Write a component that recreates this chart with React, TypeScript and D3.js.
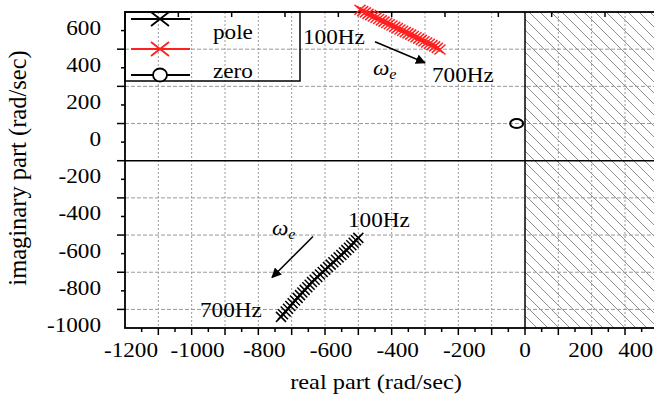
import React, { useEffect, useRef } from 'react';
import * as d3 from 'd3';

// pole trajectories, 100Hz -> 700Hz
const blackPoles: [number, number][] = [
  [-500, -515], [-507, -528], [-514, -541], [-521, -555], [-528, -568], [-536, -581],
  [-543, -594], [-551, -607], [-559, -620], [-567, -633], [-575, -646], [-583, -659],
  [-591, -672], [-599, -686], [-607, -699], [-615, -712], [-623, -726], [-631, -740],
  [-639, -753], [-646, -767], [-653, -781], [-661, -795], [-668, -809], [-675, -823],
  [-682, -838], [-690, -852], [-697, -867], [-704, -882], [-711, -896], [-718, -911],
  [-726, -926], [-732, -940],
];
const redPoles: [number, number][] = [
  [-495, 712], [-487, 705], [-479, 698], [-471, 690], [-463, 683], [-455, 676],
  [-447, 669], [-439, 662], [-431, 655], [-423, 648], [-415, 641], [-407, 634],
  [-399, 627], [-391, 620], [-383, 613], [-375, 606], [-367, 599], [-359, 592],
  [-351, 585], [-343, 578], [-335, 571], [-327, 564], [-319, 557], [-311, 550],
  [-303, 543], [-295, 536], [-287, 529], [-279, 522], [-271, 515], [-263, 507],
  [-255, 498],
];
const zeros: [number, number][] = [[-25, 100]];

const xTickLabels = [-1200, -1000, -800, -600, -400, -200, 0, 200, 400];
const yTickLabels = [-1000, -800, -600, -400, -200, 0, 200, 400, 600];
const yGrid = [-900, -700, -500, -300, 500, 300, 100];
const realAxisY = -100;

const labels = [
  { x: -666, y: 529, text: '100Hz' },
  { x: -279, y: 325, text: '700Hz' },
  { x: -531, y: -454, text: '100Hz' },
  { x: -975, y: -943, text: '700Hz' },
];
const omegas = [
  { x: -456, y: 363 },
  { x: -759, y: -497 },
];
const arrows = [
  { x1: -450, y1: 540, x2: -300, y2: 427 },
  { x1: -636, y1: -508, x2: -759, y2: -728 },
];

const SX = 1.16;
const FONT = '"Liberation Serif", "Times New Roman", serif';
const W = 654;
const H = 396;

export default function App() {
  const svgRef = useRef<SVGSVGElement>(null);

  useEffect(() => {
    if (!svgRef.current) return;
    const svg = d3.select(svgRef.current);
    svg.selectAll('*').remove();

    const left = 125, top = 12, bottom = 328;
    const x = d3.scaleLinear().domain([-1200, 600]).range([left, 725]);
    const y = d3.scaleLinear().domain([-1000, 700]).range([bottom, top]);
    const right = x(600);

    const defs = svg.append('defs');
    const pat = defs.append('pattern')
      .attr('id', 'hatch')
      .attr('patternUnits', 'userSpaceOnUse')
      .attr('width', 11)
      .attr('height', 11);
    pat.append('path')
      .attr('d', 'M0,0 L11,11 M-2,9 L2,13 M9,-2 L13,2')
      .attr('stroke', '#8f8f8f')
      .attr('stroke-width', 1);
    defs.append('marker')
      .attr('id', 'arrow')
      .attr('viewBox', '0 0 10 10')
      .attr('refX', 9)
      .attr('refY', 5)
      .attr('markerWidth', 10)
      .attr('markerHeight', 10)
      .attr('markerUnits', 'userSpaceOnUse')
      .attr('orient', 'auto')
      .append('path')
      .attr('d', 'M0,0 L10,5 L0,10 z')
      .attr('fill', '#000');

    // right half plane
    svg.append('rect')
      .attr('x', x(0)).attr('y', top)
      .attr('width', right - x(0)).attr('height', bottom - top)
      .attr('fill', 'url(#hatch)');

    // grid
    const vGrid = d3.range(-1100, 601, 100).filter(v => v !== 0);
    svg.append('g').selectAll('line').data(vGrid).join('line')
      .attr('x1', d => x(d)).attr('x2', d => x(d))
      .attr('y1', top).attr('y2', bottom)
      .attr('stroke', '#999').attr('stroke-width', 1).attr('stroke-dasharray', '2,2');
    svg.append('g').selectAll('line').data(yGrid).join('line')
      .attr('x1', left).attr('x2', right)
      .attr('y1', d => y(d)).attr('y2', d => y(d))
      .attr('stroke', '#999').attr('stroke-width', 1).attr('stroke-dasharray', '4,2');

    // solid axes lines
    svg.append('line')
      .attr('x1', x(0)).attr('x2', x(0)).attr('y1', top).attr('y2', bottom)
      .attr('stroke', '#000').attr('stroke-width', 1.5);
    svg.append('line')
      .attr('x1', left).attr('x2', right).attr('y1', y(realAxisY)).attr('y2', y(realAxisY))
      .attr('stroke', '#000').attr('stroke-width', 1.5);

    // frame
    svg.append('rect')
      .attr('x', left).attr('y', top)
      .attr('width', right - left).attr('height', bottom - top)
      .attr('fill', 'none').attr('stroke', '#000').attr('stroke-width', 1.8);

    // ticks
    const tk = svg.append('g').attr('stroke', '#000').attr('stroke-width', 1.5);
    d3.range(-1100, 601, 100).forEach(v => {
      tk.append('line').attr('x1', x(v)).attr('x2', x(v)).attr('y1', bottom).attr('y2', bottom + 7);
    });
    d3.range(-1150, 600, 100).forEach(v => {
      tk.append('line').attr('x1', x(v)).attr('x2', x(v)).attr('y1', bottom).attr('y2', bottom + 4);
    });
    d3.range(-1040, 600, 160).forEach(v => {
      tk.append('line').attr('x1', x(v)).attr('x2', x(v)).attr('y1', top).attr('y2', top + 5);
    });
    yGrid.concat([realAxisY]).forEach(v => {
      tk.append('line').attr('x1', left - 8).attr('x2', left).attr('y1', y(v)).attr('y2', y(v));
    });
    d3.range(-800, 601, 200).forEach(v => {
      tk.append('line').attr('x1', left - 4).attr('x2', left).attr('y1', y(v)).attr('y2', y(v));
    });

    const stretched = (g: any, px: number, py: number, text: string, anchor: string, size: number) =>
      g.append('text')
        .attr('transform', `translate(${px},${py}) scale(${SX},1)`)
        .attr('text-anchor', anchor)
        .attr('font-family', FONT)
        .attr('font-size', size)
        .attr('fill', '#000')
        .text(text);

    const tl = svg.append('g');
    // the minus sign pushes the printed negative labels a little right of their tick
    xTickLabels.forEach(v => {
      const nudge = v < 0 ? 6 : v > 0 ? -6 : 0;
      const t = stretched(tl, x(v) + nudge, 357, String(v), 'middle', 20);
      const half = (t.node() as SVGTextElement).getComputedTextLength() * SX / 2;
      if (x(v) + nudge + half > W - 1) {
        t.attr('transform', `translate(${W - 1 - half},357) scale(${SX},1)`);
      }
    });
    yTickLabels.forEach(v => stretched(tl, 101, y(v) + 4, String(v), 'end', 20));

    stretched(svg, 376, 389, 'real part (rad/sec)', 'middle', 21);
    svg.append('text')
      .attr('transform', `translate(26,${(top + bottom) / 2 - 2}) rotate(-90)`)
      .attr('text-anchor', 'middle')
      .attr('font-family', FONT)
      .attr('font-size', 24.5)
      .text('imaginary part (rad/sec)');

    // legend
    const lg = svg.append('g');
    lg.append('rect')
      .attr('x', left).attr('y', top).attr('width', 175).attr('height', 69)
      .attr('fill', 'none').attr('stroke', '#000').attr('stroke-width', 1.5);
    const xMark = (g: any, cx: number, cy: number, hw: number, hh: number, color: string, sw: number) => {
      g.append('path')
        .attr('d', `M${cx - hw},${cy - hh}L${cx + hw},${cy + hh}M${cx - hw},${cy + hh}L${cx + hw},${cy - hh}`)
        .attr('stroke', color).attr('stroke-width', sw).attr('fill', 'none');
    };
    const rows = [
      { cy: 19, color: '#000', kind: 'x' },
      { cy: 49, color: '#ff2020', kind: 'x' },
      { cy: 75, color: '#000', kind: 'o' },
    ];
    rows.forEach(r => {
      lg.append('line').attr('x1', 131).attr('x2', 190).attr('y1', r.cy).attr('y2', r.cy)
        .attr('stroke', r.color).attr('stroke-width', 1.8);
      if (r.kind === 'x') {
        xMark(lg, 160, r.cy, 9, 7, r.color, 1.8);
      } else {
        lg.append('ellipse').attr('cx', 160).attr('cy', r.cy).attr('rx', 7).attr('ry', 6.5)
          .attr('fill', '#fff').attr('stroke', r.color).attr('stroke-width', 1.8);
      }
    });
    stretched(lg, 213, 39, 'pole', 'start', 20);
    stretched(lg, 213, 78, 'zero', 'start', 20);

    // data
    const line = d3.line<[number, number]>().x(d => x(d[0])).y(d => y(d[1]));
    svg.append('path').datum(blackPoles).attr('d', line)
      .attr('fill', 'none').attr('stroke', '#000').attr('stroke-width', 2.2);
    const bg = svg.append('g');
    blackPoles.forEach(d => xMark(bg, x(d[0]), y(d[1]), 5, 5, '#000', 1.5));

    svg.append('path').datum(redPoles).attr('d', line)
      .attr('fill', 'none').attr('stroke', '#ff2020').attr('stroke-width', 2.2);
    const rg = svg.append('g');
    redPoles.forEach(d => xMark(rg, x(d[0]), y(d[1]), 5.5, 5, '#ff2020', 1.5));

    svg.append('g').selectAll('ellipse').data(zeros).join('ellipse')
      .attr('cx', d => x(d[0])).attr('cy', d => y(d[1]))
      .attr('rx', 6.5).attr('ry', 4.5)
      .attr('fill', 'none').attr('stroke', '#000').attr('stroke-width', 2);

    // annotations
    labels.forEach(l => stretched(svg, x(l.x), y(l.y), l.text, 'start', 20));
    omegas.forEach(o => {
      const t = svg.append('text')
        .attr('transform', `translate(${x(o.x)},${y(o.y)}) scale(${SX},1)`)
        .attr('font-family', FONT)
        .attr('font-style', 'italic')
        .attr('font-size', 20);
      t.append('tspan').text('ω');
      t.append('tspan').attr('font-size', 14).attr('dy', 4).text('e');
    });
    arrows.forEach(a => {
      svg.append('line')
        .attr('x1', x(a.x1)).attr('y1', y(a.y1))
        .attr('x2', x(a.x2)).attr('y2', y(a.y2))
        .attr('stroke', '#000').attr('stroke-width', 1.5)
        .attr('marker-end', 'url(#arrow)');
    });
  }, []);

  return (
    <svg
      ref={svgRef}
      width={W}
      height={H}
      style={{ position: 'absolute', left: 0, top: 0, background: '#fff', display: 'block' }}
    />
  );
}
